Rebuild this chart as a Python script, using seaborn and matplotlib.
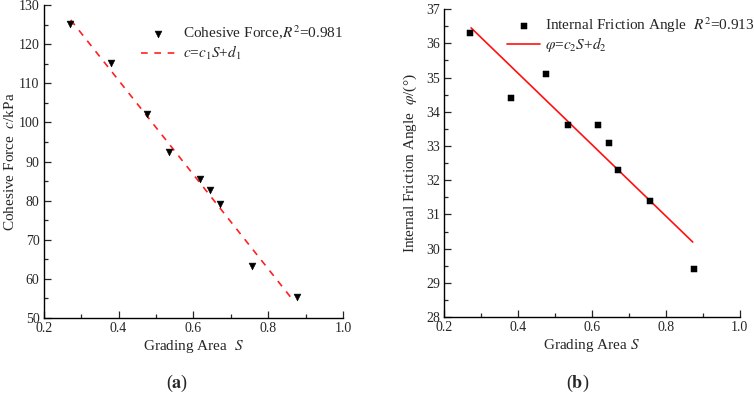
import numpy as np
import matplotlib
matplotlib.use("Agg")
import matplotlib.pyplot as plt
import seaborn as sns
from matplotlib.ticker import MultipleLocator

# data
grading_area = [0.270, 0.381, 0.475, 0.534, 0.617, 0.645, 0.671, 0.756, 0.876]
cohesion = [125.3, 115.3, 102.1, 92.4, 85.6, 82.6, 79.1, 63.3, 55.4]
friction = [36.3, 34.4, 35.1, 33.6, 33.6, 33.1, 32.3, 31.4, 29.4]

sns.set_theme(style="ticks")
plt.rcParams["font.family"] = ["Liberation Serif", "DejaVu Serif"]
plt.rcParams["mathtext.fontset"] = "stix"
plt.rcParams["xtick.direction"] = "in"
plt.rcParams["ytick.direction"] = "in"

fig = plt.figure(figsize=(7.54, 3.95), dpi=100)
ax1 = fig.add_axes([0.058, 0.195, 0.397, 0.792])
ax2 = fig.add_axes([0.589, 0.197, 0.392, 0.780])

S = np.array(grading_area)

# (a) cohesive force
k1, b1 = np.polyfit(S, cohesion, 1)
sns.scatterplot(x=grading_area, y=cohesion, marker="v", color="black", s=24,
                edgecolor="black", ax=ax1, label="Cohesive Force,$R^2$=0.981", zorder=3)
xs1 = np.array([0.272, 0.865])
sns.lineplot(x=xs1, y=k1 * xs1 + b1, color="#ff2020", linestyle=(0, (4, 4)), lw=1.2,
             ax=ax1, label="$c$=$c_1S$+$d_1$")
ax1.set_xlim(0.2, 1.0)
ax1.set_ylim(50, 130)
ax1.xaxis.set_major_locator(MultipleLocator(0.2))
ax1.xaxis.set_minor_locator(MultipleLocator(0.1))
ax1.yaxis.set_major_locator(MultipleLocator(10))
ax1.yaxis.set_minor_locator(MultipleLocator(5))
ax1.set_xlabel("Grading Area  $S$", fontsize=11, labelpad=2)
ax1.set_ylabel("Cohesive Force  $c$/kPa", fontsize=11)
ax1.yaxis.set_label_coords(-0.09, 0.5)
ax1.legend(loc="upper right", bbox_to_anchor=(1.045, 0.985), frameon=False, fontsize=11,
           handlelength=2.2, handletextpad=0.5, labelspacing=0.15)

# (b) internal friction angle
k2, b2 = np.polyfit(S, friction, 1)
sns.scatterplot(x=grading_area, y=friction, marker="s", color="black", s=20,
                edgecolor="black", ax=ax2, label="Internal Friction Angle  $R^2$=0.913", zorder=3)
xs2 = np.array([0.273, 0.873])
sns.lineplot(x=xs2, y=k2 * xs2 + b2, color="#ff1010", lw=1.2, ax=ax2,
             label=r"$\varphi$=$c_2S$+$d_2$")
ax2.set_xlim(0.2, 1.0)
ax2.set_ylim(28, 37)
ax2.xaxis.set_major_locator(MultipleLocator(0.2))
ax2.xaxis.set_minor_locator(MultipleLocator(0.1))
ax2.yaxis.set_major_locator(MultipleLocator(1))
ax2.yaxis.set_minor_locator(MultipleLocator(0.5))
ax2.set_xlabel("Grading Area $S$", fontsize=11, labelpad=2)
ax2.set_ylabel(r"Internal Friction Angle  $\varphi$/(°)", fontsize=11)
ax2.yaxis.set_label_coords(-0.084, 0.5)
ax2.legend(loc="upper right", bbox_to_anchor=(1.097, 1.025), frameon=False, fontsize=11,
           handlelength=2.2, handletextpad=0.3, labelspacing=0.02)

for ax in (ax1, ax2):
    sns.despine(ax=ax)
    ax.tick_params(which="major", length=5, width=0.9, labelsize=10, pad=3)
    ax.tick_params(which="minor", length=3, width=0.9)
    for sp in ("left", "bottom"):
        ax.spines[sp].set_linewidth(1.0)
        ax.spines[sp].set_color("black")

fig.text(0.235, 0.030, r"($\mathbf{a}$)", fontsize=13, ha="center", va="center")
fig.text(0.766, 0.030, r"($\mathbf{b}$)", fontsize=13, ha="center", va="center")

fig.savefig("out.png", dpi=100)
